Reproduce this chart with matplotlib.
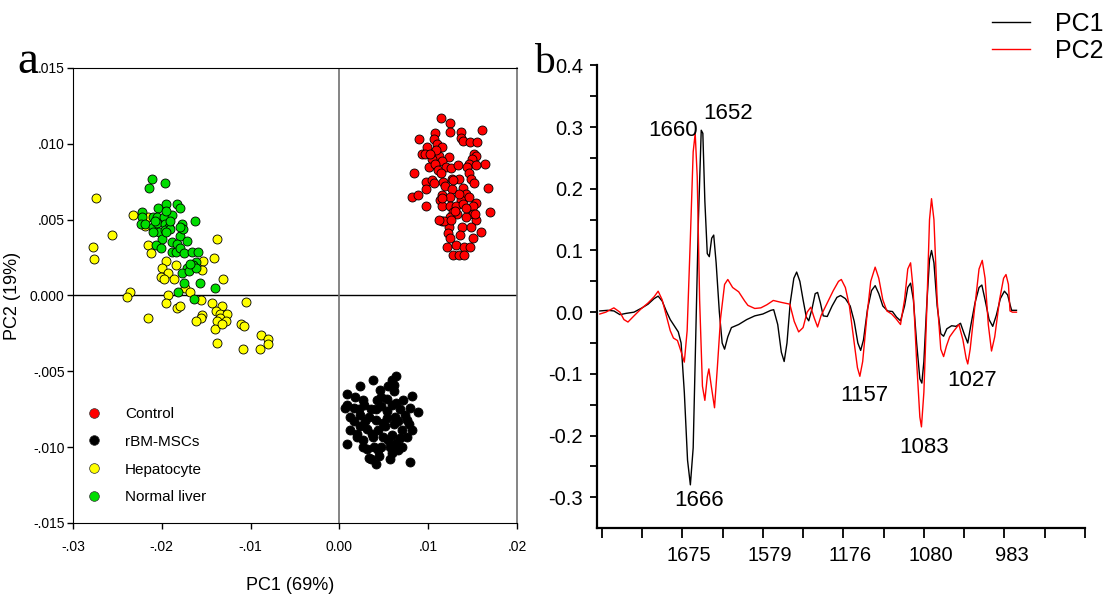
import numpy as np
import matplotlib
matplotlib.use('Agg')
import matplotlib.pyplot as plt
from matplotlib.transforms import ScaledTranslation
from matplotlib.lines import Line2D

plt.rcParams['font.family'] = ['Liberation Sans', 'DejaVu Sans']

# ---- panel a: PCA scores ----
control_x = [.0114, .0125, .0125, .0137, .0161, .0090, .0108, .0106, .0110, .0116, .0137, .0139, .0147, .0155,
             .0099, .0093, .0096, .0112, .0123, .0104, .0116, .0152, .0154, .0149, .0146, .0164, .0084, .0101,
             .0108, .0111, .0120, .0126, .0133, .0144, .0114, .0146, .0148, .0151, .0098, .0104, .0117, .0127,
             .0135, .0097, .0106, .0119, .0127, .0139, .0143, .0167, .0082, .0089, .0115, .0125, .0137, .0146,
             .0113, .0154, .0097, .0115, .0124, .0131, .0139, .0150, .0150, .0170, .0128, .0132, .0124, .0115,
             .0143, .0154, .0123, .0138, .0148, .0159, .0122, .0125, .0136, .0150, .0121, .0131, .0140, .0147,
             .0128, .0135, .0140, .0118, .0112, .0126, .0153, .0143, .0135, .0116, .0128, .0154, .0109, .0102,
             .0130]
control_y = [.0117, .0114, .0108, .0108, .0109, .0103, .0107, .0103, .0100, .0098, .0104, .0102, .0101, .0101,
             .0098, .0093, .0093, .0092, .0091, .0090, .0089, .0093, .0092, .0090, .0087, .0087, .0081, .0085,
             .0087, .0083, .0085, .0084, .0086, .0085, .0081, .0081, .0077, .0074, .0075, .0076, .0075, .0077,
             .0077, .0070, .0074, .0072, .0070, .0071, .0067, .0071, .0065, .0066, .0066, .0065, .0063, .0065,
             .0063, .0061, .0059, .0059, .0059, .0059, .0060, .0059, .0054, .0055, .0055, .0054, .0052, .0049,
             .0052, .0050, .0045, .0045, .0045, .0042, .0041, .0038, .0040, .0038, .0032, .0033, .0032, .0032,
             .0027, .0027, .0027, .0049, .0050, .0050, .0054, .0058, .0067, .0064, .0076, .0086, .0096, .0093,
             .0056]

msc_x = [.0064, .0059, .0038, .0023, .0009, .0018, .0046, .0061, .0082, .0006, .0027, .0042, .0053, .0072,
         .0080, .0088, .0012, .0023, .0035, .0047, .0059, .0068, .0016, .0029, .0041, .0053, .0063, .0076,
         .0078, .0020, .0031, .0043, .0051, .0061, .0070, .0008, .0020, .0027, .0038, .0049, .0059, .0068,
         .0076, .0031, .0039, .0047, .0057, .0066, .0035, .0041, .0045, .0057, .0079, .0033, .0012, .0023,
         .0055, .0064, .0049, .0041, .0033, .0066, .0082, .0016, .0047, .0055, .0062, .0028, .0022, .0070,
         .0043, .0037, .0053, .0064, .0009, .0074, .0027, .0059]
msc_y = [-.0053, -.0056, -.0056, -.0060, -.0065, -.0067, -.0062, -.0063, -.0066, -.0074, -.0069, -.0069,
         -.0068, -.0069, -.0074, -.0077, -.0080, -.0079, -.0075, -.0073, -.0072, -.0075, -.0083, -.0083,
         -.0082, -.0081, -.0080, -.0082, -.0085, -.0091, -.0088, -.0089, -.0086, -.0085, -.0089, -.0098,
         -.0093, -.0095, -.0093, -.0093, -.0092, -.0094, -.0093, -.0101, -.0100, -.0100, -.0100, -.0102,
         -.0108, -.0111, -.0106, -.0108, -.0110, -.0107, -.0089, -.0086, -.0095, -.0097, -.0084, -.0075,
         -.0080, -.0083, -.0089, -.0074, -.0067, -.0060, -.0059, -.0072, -.0075, -.0100, -.0102, -.0091,
         -.0076, -.0071, -.0072, -.0079, -.0100, -.0104]

hep_x = [-.0274, -.0233, -.0216, -.0219, -.0256, -.0278, -.0276, -.0216, -.0212, -.0138, -.0141, -.0195,
         -.0184, -.0154, -.0200, -.0193, -.0201, -.0198, -.0186, -.0155, -.0131, -.0174, -.0168, -.0236,
         -.0239, -.0193, -.0195, -.0156, -.0144, -.0132, -.0105, -.0183, -.0180, -.0139, -.0134, -.0127,
         -.0135, -.0138, -.0128, -.0155, -.0156, -.0162, -.0111, -.0107, -.0140, -.0088, -.0081, -.0080,
         -.0138, -.0109, -.0089, -.0216, -.0132]
hep_y = [.0064, .0053, .0052, .0046, .0040, .0032, .0024, .0033, .0028, .0037, .0025, .0023, .0020, .0023,
         .0018, .0015, .0012, .0011, .0011, .0017, .0011, .0005, .0002, .0002, -.0001, .0000, -.0005, -.0003,
         -.0005, -.0007, -.0004, -.0008, -.0007, -.0010, -.0012, -.0012, -.0015, -.0017, -.0017, -.0013,
         -.0015, -.0017, -.0019, -.0020, -.0022, -.0026, -.0029, -.0032, -.0031, -.0035, -.0035, -.0015,
         -.0019]

liver_x = [-.0211, -.0196, -.0214, -.0204, -.0195, -.0183, -.0179, -.0222, -.0222, -.0210, -.0205, -.0198,
           -.0189, -.0224, -.0219, -.0210, -.0205, -.0196, -.0192, -.0177, -.0163, -.0203, -.0197, -.0191,
           -.0180, -.0210, -.0176, -.0200, -.0207, -.0201, -.0189, -.0183, -.0172, -.0189, -.0184, -.0180,
           -.0175, -.0166, -.0159, -.0162, -.0172, -.0165, -.0177, -.0169, -.0162, -.0175, -.0157, -.0140,
           -.0182, -.0164, -.0195, -.0191, -.0208, -.0195, -.0180, -.0168]
liver_y = [.0077, .0074, .0071, .0058, .0060, .0060, .0058, .0055, .0052, .0052, .0052, .0052, .0053, .0047,
           .0047, .0045, .0048, .0047, .0045, .0047, .0049, .0042, .0043, .0044, .0039, .0042, .0044, .0037,
           .0033, .0031, .0035, .0034, .0036, .0029, .0029, .0031, .0028, .0029, .0029, .0022, .0018, .0020,
           .0015, .0016, .0018, .0008, .0008, .0005, .0002, -.0002, .0056, .0049, .0049, .0042, .0045, .0021]

groups = ['Control', 'rBM-MSCs', 'Hepatocyte', 'Normal liver']
group_colors = ['#ff0000', '#000000', '#ffff00', '#00dd00']

a_xticks = [-.03, -.02, -.01, 0.0, .01, .02]
a_xticklabels = ['-.03', '-.02', '-.01', '0.00', '.01', '.02']
a_yticks = [-.015, -.010, -.005, 0.0, .005, .010, .015]
a_yticklabels = ['-.015', '-.010', '-.005', '0.000', '.005', '.010', '.015']

# ---- panel b: loadings (x = position index along spectrum) ----
pc1_pos = [-0.05, 0.15, 0.3, 0.45, 0.6, 0.8, 1.0, 1.15, 1.3, 1.4, 1.5, 1.6, 1.7, 1.8, 1.9, 1.97, 2.05, 2.13,
           2.2, 2.27, 2.33, 2.4, 2.47, 2.51, 2.56, 2.62, 2.67, 2.73, 2.78, 2.84, 2.92, 2.99, 3.05, 3.13, 3.22,
           3.4, 3.6, 3.8, 4.0, 4.2, 4.27, 4.37, 4.46, 4.53, 4.6, 4.68, 4.77, 4.84, 4.92, 5.0, 5.08, 5.14, 5.22,
           5.3, 5.36, 5.43, 5.5, 5.6, 5.72, 5.84, 5.93, 6.05, 6.17, 6.27, 6.36, 6.43, 6.5, 6.6, 6.7, 6.79,
           6.88, 6.98, 7.1, 7.22, 7.32, 7.42, 7.52, 7.6, 7.67, 7.74, 7.82, 7.9, 7.95, 8.0, 8.07, 8.14, 8.19,
           8.25, 8.33, 8.42, 8.49, 8.57, 8.69, 8.8, 8.91, 9.0, 9.09, 9.17, 9.27, 9.37, 9.44, 9.52, 9.62, 9.71,
           9.8, 9.9, 10.0, 10.08, 10.15, 10.18, 10.3]
pc1_val = [0.002, 0.003, 0.002, -0.004, -0.002, 0.0, 0.007, 0.013, 0.022, 0.026, 0.018, 0.002, -0.012, -0.022,
           -0.032, -0.05, -0.13, -0.24, -0.28, -0.22, -0.05, 0.15, 0.295, 0.29, 0.18, 0.095, 0.09, 0.12, 0.125,
           0.08, 0.0, -0.05, -0.06, -0.04, -0.025, -0.02, -0.012, -0.006, -0.003, 0.003, 0.004, -0.02, -0.065,
           -0.08, -0.05, 0.015, 0.055, 0.065, 0.05, 0.02, -0.008, -0.014, 0.005, 0.03, 0.032, 0.015, -0.006,
           -0.007, 0.01, 0.024, 0.027, 0.022, 0.01, -0.015, -0.05, -0.062, -0.045, 0.005, 0.035, 0.043, 0.03,
           0.01, 0.002, 0.001, -0.008, -0.014, 0.01, 0.04, 0.047, 0.02, -0.05, -0.108, -0.115, -0.08, 0.01,
           0.085, 0.1, 0.08, 0.01, -0.035, -0.039, -0.027, -0.022, -0.023, -0.018, -0.035, -0.05, -0.02, 0.015,
           0.04, 0.044, 0.02, -0.012, -0.023, -0.005, 0.022, 0.034, 0.028, 0.01, 0.003, 0.003]

pc2_pos = [-0.05, 0.1, 0.3, 0.45, 0.55, 0.65, 0.8, 0.97, 1.15, 1.3, 1.4, 1.5, 1.6, 1.7, 1.78, 1.88, 1.95, 2.05,
           2.12, 2.2, 2.27, 2.32, 2.37, 2.43, 2.5, 2.56, 2.62, 2.66, 2.72, 2.8, 2.87, 2.95, 3.05, 3.13, 3.25,
           3.4, 3.55, 3.63, 3.8, 3.95, 4.1, 4.26, 4.45, 4.67, 4.78, 4.89, 5.0, 5.1, 5.19, 5.28, 5.36, 5.45,
           5.6, 5.75, 5.88, 5.95, 6.05, 6.15, 6.25, 6.35, 6.41, 6.48, 6.58, 6.68, 6.79, 6.88, 6.98, 7.08, 7.2,
           7.3, 7.42, 7.52, 7.6, 7.67, 7.73, 7.82, 7.9, 7.94, 8.0, 8.07, 8.14, 8.19, 8.25, 8.33, 8.42, 8.49,
           8.56, 8.64, 8.75, 8.87, 8.97, 9.05, 9.09, 9.15, 9.25, 9.37, 9.45, 9.52, 9.6, 9.68, 9.76, 9.88, 9.98,
           10.04, 10.1, 10.14, 10.2, 10.3]
pc2_val = [-0.003, 0.0, 0.007, 0.0, -0.012, -0.016, -0.006, 0.005, 0.015, 0.025, 0.034, 0.02, -0.005, -0.03,
           -0.042, -0.046, -0.06, -0.081, -0.03, 0.12, 0.26, 0.29, 0.22, 0.02, -0.12, -0.143, -0.105, -0.092,
           -0.12, -0.155, -0.09, -0.01, 0.045, 0.053, 0.04, 0.033, 0.018, 0.011, 0.006, 0.007, 0.012, 0.019,
           0.016, 0.013, -0.015, -0.032, -0.025, 0.0, 0.008, -0.01, -0.024, -0.005, 0.015, 0.035, 0.05, 0.053,
           0.04, 0.01, -0.04, -0.09, -0.104, -0.08, -0.01, 0.05, 0.073, 0.055, 0.02, 0.002, -0.003, -0.01,
           -0.02, 0.02, 0.07, 0.08, 0.04, -0.08, -0.17, -0.186, -0.13, 0.0, 0.15, 0.184, 0.15, 0.02, -0.06,
           -0.072, -0.055, -0.04, -0.03, -0.02, -0.045, -0.075, -0.084, -0.06, 0.0, 0.07, 0.084, 0.055, -0.02,
           -0.063, -0.04, 0.02, 0.055, 0.061, 0.045, 0.002, 0.0, 0.0]

b_label_pos = [2, 4, 6, 8, 10]
b_labels = ['1675', '1579', '1176', '1080', '983']
b_yticks = [-0.3, -0.2, -0.1, 0.0, 0.1, 0.2, 0.3, 0.4]
b_yticklabels = ['-0.3', '-0.2', '-0.1', '0.0', '0.1', '0.2', '0.3', '0.4']

peak_labels = ['1660', '1652', '1666', '1157', '1083', '1027']
peak_text_pos = [(1.78, 0.295), (3.13, 0.322), (2.41, -0.305), (6.51, -0.135), (8.0, -0.219), (9.19, -0.110)]


def main():
    fig = plt.figure(figsize=(11.1, 5.99), dpi=100)

    # ---------------- panel a ----------------
    ax = fig.add_axes([0.0658, 0.1269, 0.4, 0.7596])
    sets = [(control_x, control_y), (msc_x, msc_y), (hep_x, hep_y), (liver_x, liver_y)]
    for (xs, ys), name, col in zip(sets, groups, group_colors):
        ax.scatter(xs, ys, s=42, c=col, edgecolors='black', linewidths=0.6, label=name, zorder=3)
    ax.axhline(0, color='black', lw=1.0, zorder=1)
    ax.axvline(0, color='#707070', lw=1.2, zorder=1)
    ax.set_xlim(-.03, .02)
    ax.set_ylim(-.015, .015)
    ax.set_xticks(a_xticks)
    ax.set_xticklabels(a_xticklabels)
    ax.set_yticks(a_yticks)
    ax.set_yticklabels(a_yticklabels)
    ax.tick_params(direction='out', length=4, width=1, labelsize=10)
    ax.tick_params(axis='x', pad=8)
    ax.tick_params(axis='y', pad=2)
    ax.spines['right'].set_color('#707070')
    ax.spines['right'].set_linewidth(1.2)
    ax.set_xlabel('PC1 (69%)', fontsize=13)
    ax.xaxis.set_label_coords(0.488, -0.118)
    ax.set_ylabel('PC2 (19%)', fontsize=13)
    ax.yaxis.set_label_coords(-0.118, 0.5)

    handles = [Line2D([], [], marker='o', ls='', markersize=7, markerfacecolor=c, markeredgecolor='#333333',
                      markeredgewidth=0.5) for c in group_colors]
    ax.legend(handles, groups, loc='upper left', bbox_to_anchor=(0.0, 0.285), frameon=False,
              fontsize=11, labelspacing=0.9, handletextpad=1.5, handlelength=1.0)

    fig.text(0.016, 0.878, 'a', family=['Liberation Serif', 'DejaVu Serif'], fontsize=34)

    # ---------------- panel b ----------------
    bx = fig.add_axes([0.5378, 0.1185, 0.4396, 0.7763])
    bx.plot(pc1_pos, pc1_val, color='black', lw=1.0, label='PC1')
    bx.plot(pc2_pos, pc2_val, color='red', lw=1.0, label='PC2')
    bx.set_xlim(-0.12, 12.0)
    bx.set_ylim(-0.35, 0.404)
    bx.spines['top'].set_visible(False)
    bx.spines['right'].set_visible(False)
    bx.spines['left'].set_bounds(-0.35, 0.4)
    for s in ['left', 'bottom']:
        bx.spines[s].set_linewidth(1.6)
    bx.set_yticks(b_yticks)
    bx.set_yticklabels(b_yticklabels)
    bx.set_yticks(np.arange(-0.25, 0.4, 0.1), minor=True)
    bx.set_xticks(b_label_pos)
    bx.set_xticklabels(b_labels)
    bx.set_xticks([0, 1, 3, 5, 7, 9, 11, 12], minor=True)
    bx.tick_params(which='both', direction='out', length=5, width=1.3, labelsize=14.5)
    bx.tick_params(axis='x', which='both', length=7, pad=6)
    bx.tick_params(axis='y', pad=5)
    shift = ScaledTranslation(7 / 100, 0, fig.dpi_scale_trans)
    for lab in bx.get_xticklabels():
        lab.set_transform(lab.get_transform() + shift)

    for txt, (px, py) in zip(peak_labels, peak_text_pos):
        bx.text(px, py, txt, fontsize=16, ha='center', va='center')

    fig.legend(handles=[Line2D([], [], color='black', lw=1.0), Line2D([], [], color='red', lw=1.0)],
               labels=['PC1', 'PC2'], loc='upper right', bbox_to_anchor=(1.008, 1.005), frameon=False,
               fontsize=18, handlelength=1.55, handletextpad=1.0, labelspacing=0.1, borderaxespad=0.2)

    fig.text(0.481, 0.878, 'b', family=['Liberation Serif', 'DejaVu Serif'], fontsize=30)

    plt.savefig('out.png', dpi=100)


if __name__ == '__main__':
    main()
